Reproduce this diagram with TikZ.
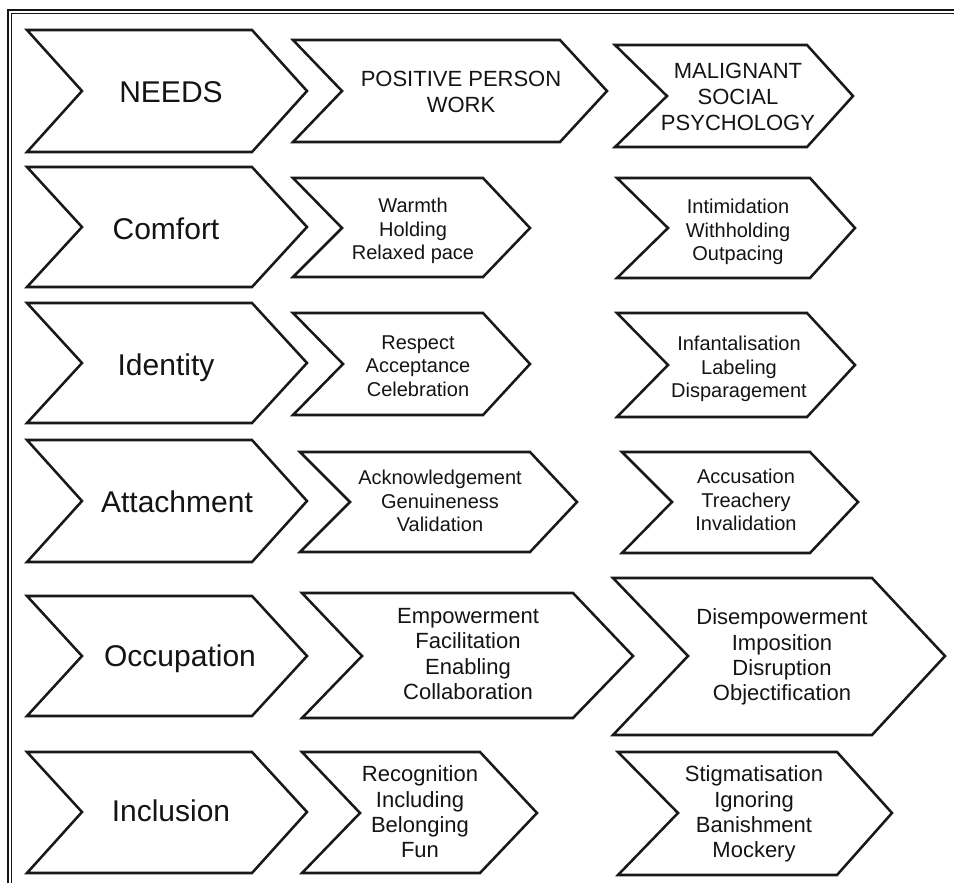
\documentclass[tikz,border=0pt]{standalone}
\usepackage{fontspec}
\setmainfont{Liberation Sans}
\usepackage{xcolor}

\begin{document}
\begin{tikzpicture}[x=0.75pt,y=0.75pt,yscale=-1,xscale=1,
  chev/.style={draw={rgb, 255:red, 25; green, 25; blue, 25 }, fill=white, line width=1.9pt, line join=miter},
  frameline/.style={draw={rgb, 255:red, 20; green, 20; blue, 20 }},
  lbl/.style={inner sep=0pt, text={rgb, 255:red, 20; green, 20; blue, 20 }, text depth=0pt, font=\fontsize{22.5}{26}\selectfont},
  hdr/.style={lbl, align=center, font=\fontsize{16.5}{19.5}\selectfont},
  itm/.style={lbl, align=center, font=\fontsize{15}{17.5}\selectfont},
  itmbig/.style={lbl, align=center, font=\fontsize{16.5}{19}\selectfont}]
\useasboundingbox (0,0) rectangle (954,883);
\fill [white] (0,0) rectangle (954,883);

%Frame: double rule, top and left
\draw [frameline, line width=1.5pt] (954,10) -- (8,10) -- (8,883) ;
\draw [frameline, line width=1.1pt] (954,13.5) -- (11.5,13.5) -- (11.5,883) ;

%Shape: Chevron [column 1, needs]
\draw [chev] (27,30) -- (252,30) -- (307,91) -- (252,152) -- (27,152) -- (82,91) -- cycle ;
\draw [chev] (27,167) -- (252,167) -- (307,227) -- (252,287) -- (27,287) -- (82,227) -- cycle ;
\draw [chev] (27,303) -- (252,303) -- (307,363) -- (252,423) -- (27,423) -- (82,363) -- cycle ;
\draw [chev] (27,440) -- (252,440) -- (307,501) -- (252,562) -- (27,562) -- (82,501) -- cycle ;
\draw [chev] (27,596) -- (252,596) -- (307,656) -- (252,716) -- (27,716) -- (82,656) -- cycle ;
\draw [chev] (27,752) -- (252,752) -- (307,812) -- (252,873) -- (27,873) -- (82,812) -- cycle ;

%Shape: Chevron [column 2, positive person work]
\draw [chev] (293,40) -- (560,40) -- (607,91) -- (560,142) -- (293,142) -- (342,91) -- cycle ;
\draw [chev] (293,178) -- (483,178) -- (530,228) -- (483,277) -- (293,277) -- (342,228) -- cycle ;
\draw [chev] (293,313) -- (483,313) -- (530,364) -- (483,415) -- (293,415) -- (343,364) -- cycle ;
\draw [chev] (300,452) -- (530,452) -- (577,502) -- (530,552) -- (300,552) -- (350,502) -- cycle ;
\draw [chev] (302,593) -- (573,593) -- (633,656) -- (573,718) -- (302,718) -- (362,656) -- cycle ;
\draw [chev] (302,752) -- (480,752) -- (537,813) -- (480,873) -- (302,873) -- (360,813) -- cycle ;

%Shape: Chevron [column 3, malignant social psychology]
\draw [chev] (615,45) -- (807,45) -- (853,96) -- (807,147) -- (615,147) -- (667,96) -- cycle ;
\draw [chev] (617,178) -- (810,178) -- (855,228) -- (810,278) -- (617,278) -- (668,228) -- cycle ;
\draw [chev] (617,313) -- (807,313) -- (855,365) -- (807,417) -- (617,417) -- (668,365) -- cycle ;
\draw [chev] (622,452) -- (810,452) -- (858,502) -- (810,553) -- (622,553) -- (672,502) -- cycle ;
\draw [chev] (613,578) -- (872,578) -- (945,656) -- (872,735) -- (613,735) -- (688,656) -- cycle ;
\draw [chev] (618,752) -- (837,752) -- (892,813) -- (837,875) -- (618,875) -- (678,813) -- cycle ;

% Text Node
\node [lbl] (needs) at (171,92) {NEEDS};
\node [lbl] (comfort) at (166,229) {Comfort};
\node [lbl] (identity) at (166,365) {Identity};
\node [lbl] (attachment) at (177,502) {Attachment};
\node [lbl] (occupation) at (180,656) {Occupation};
\node [lbl] (inclusion) at (171,811) {Inclusion};

% Text Node
\node [hdr] (ppw) at (461,92) {POSITIVE PERSON\\WORK};
\node [itm] (ppwcomfort) at (413,229) {Warmth\\Holding\\Relaxed pace};
\node [itm] (ppwidentity) at (418,366) {Respect\\Acceptance\\Celebration};
\node [itm] (ppwattach) at (440,501) {Acknowledgement\\Genuineness\\Validation};
\node [itmbig] (ppwoccup) at (468,654) {Empowerment\\Facilitation\\Enabling\\Collaboration};
\node [itmbig] (ppwinclus) at (420,812) {Recognition\\Including\\Belonging\\Fun};

% Text Node
\node [hdr] (msp) at (738,97) {MALIGNANT\\SOCIAL\\PSYCHOLOGY};
\node [itm] (mspcomfort) at (738,230) {Intimidation\\Withholding\\Outpacing};
\node [itm] (mspidentity) at (739,367) {Infantalisation\\Labeling\\Disparagement};
\node [itm] (mspattach) at (746,500) {Accusation\\Treachery\\Invalidation};
\node [itmbig] (mspoccup) at (782,655) {Disempowerment\\Imposition\\Disruption\\Objectification};
\node [itmbig] (mspinclus) at (754,812) {Stigmatisation\\Ignoring\\Banishment\\Mockery};

\end{tikzpicture}
\end{document}
